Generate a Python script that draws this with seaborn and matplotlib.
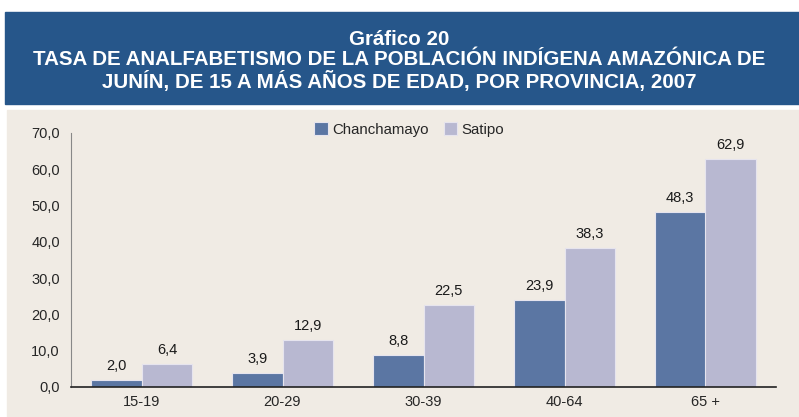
import pandas as pd
import seaborn as sns
import matplotlib.pyplot as plt
from matplotlib.patches import Rectangle

grupos = ["15-19", "20-29", "30-39", "40-64", "65 +"]
chanchamayo = [2.0, 3.9, 8.8, 23.9, 48.3]
satipo = [6.4, 12.9, 22.5, 38.3, 62.9]

df = pd.DataFrame({
    "grupo": grupos * 2,
    "provincia": ["Chanchamayo"] * 5 + ["Satipo"] * 5,
    "tasa": chanchamayo + satipo,
})

sns.set_style("white")
plt.rcParams["font.family"] = ["Liberation Sans", "DejaVu Sans"]

fig = plt.figure(figsize=(7.99, 4.17), dpi=100)
fig.patch.set_facecolor("white")

# banner del titulo
fig.patches.append(Rectangle((5 / 799, 1 - 104 / 417), 794 / 799, 92 / 417,
                             transform=fig.transFigure, color="#26568A", zorder=-2))
# fondo del grafico
fig.patches.append(Rectangle((7 / 799, 0), 792 / 799, 1 - 110 / 417,
                             transform=fig.transFigure, color="#F0EBE4", zorder=-2))

titulo = ("Gráfico 20\nTASA DE ANALFABETISMO DE LA POBLACIÓN INDÍGENA AMAZÓNICA DE\n"
          "JUNÍN, DE 15 A MÁS AÑOS DE EDAD, POR PROVINCIA, 2007")
fig.text(0.5, 1 - 61 / 417, titulo, ha="center", va="center", color="white",
         fontsize=14.8, fontweight="bold", linespacing=1.1)

ax = fig.add_axes([71 / 799, 1 - 387 / 417, 705 / 799, 254 / 417])
ax.set_facecolor("none")

sns.barplot(data=df, x="grupo", y="tasa", hue="provincia", ax=ax,
            palette=["#5B76A3", "#B8B8D1"], width=0.72, edgecolor="#E6E4EE",
            linewidth=0.8, saturation=1)

for cont in ax.containers:
    ax.bar_label(cont, labels=[f"{v:.1f}".replace(".", ",") for v in cont.datavalues],
                 padding=5, fontsize=10.5, color="#1a1a1a")

ax.set_ylim(0, 70)
ax.set_yticks(range(0, 71, 10))
ax.set_yticklabels([f"{v},0" for v in range(0, 71, 10)], fontsize=10.5)
ax.set_xlim(-0.5, 4.5)
ax.set_xticks([x - 0.5 for x in range(6)], minor=True)
ax.tick_params(axis="x", which="major", length=0, labelsize=10.5, pad=6)
ax.tick_params(axis="x", which="minor", length=5, width=1, color="#222222", direction="out")
ax.tick_params(axis="y", length=5, width=1, color="#222222", direction="out", pad=3)
ax.set_xlabel("")
ax.set_ylabel("")
for s in ["top", "right"]:
    ax.spines[s].set_visible(False)
ax.spines["left"].set_color("#888888")
ax.spines["bottom"].set_color("#222222")
ax.spines["bottom"].set_linewidth(1.2)

ax.legend(loc="upper center", bbox_to_anchor=(0.48, 1.065), ncol=2, frameon=False,
          fontsize=10.8, handlelength=0.9, handleheight=0.9, handletextpad=0.3,
          columnspacing=1.0, borderaxespad=0)

fig.savefig("out.png", dpi=100)
